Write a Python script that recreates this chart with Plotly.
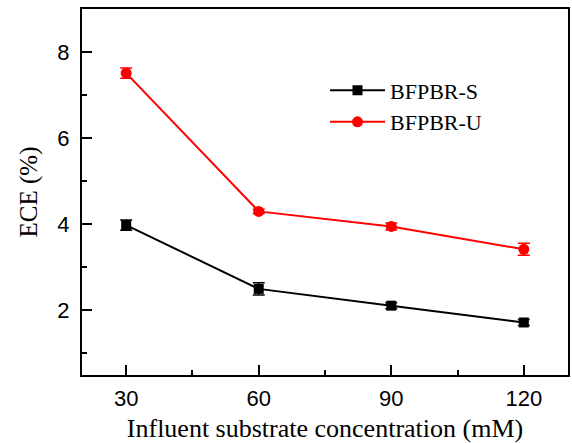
import plotly.graph_objects as go

x_conc = [30, 60, 90, 120]
s_vals = [3.98, 2.50, 2.11, 1.72]
s_err = [0.12, 0.14, 0.07, 0.07]
u_vals = [7.51, 4.30, 3.95, 3.42]
u_err = [0.12, 0.05, 0.08, 0.14]
x_ticks = [30, 60, 90, 120]
y_ticks = [2, 4, 6, 8]

fig = go.Figure()
fig.add_trace(go.Scatter(
    x=x_conc, y=s_vals, name="BFPBR-S", mode="lines+markers",
    line=dict(color="black", width=2),
    marker=dict(symbol="square", size=10, color="black"),
    error_y=dict(type="data", array=s_err, color="black", thickness=1.5, width=6),
))
fig.add_trace(go.Scatter(
    x=x_conc, y=u_vals, name="BFPBR-U", mode="lines+markers",
    line=dict(color="red", width=2),
    marker=dict(symbol="circle", size=11, color="red"),
    error_y=dict(type="data", array=u_err, color="red", thickness=1.5, width=6),
))

axis_common = dict(
    showline=True, linecolor="black", linewidth=2, mirror=True,
    showgrid=False, zeroline=False,
    ticks="inside", ticklen=10, tickwidth=2, tickcolor="black",
    tickfont=dict(family="Liberation Sans, Arial", size=22, color="black"),
)

fig.update_layout(
    width=572, height=443,
    margin=dict(l=82, r=2, t=9, b=68),
    paper_bgcolor="white", plot_bgcolor="white",
    xaxis=dict(range=[20, 130], tickvals=x_ticks,
               minor=dict(ticks="inside", ticklen=5, tickwidth=2, dtick=15, tick0=0, tickcolor="black"),
               title=dict(text="Influent substrate concentration (mM)",
                          font=dict(family="Liberation Serif, Times New Roman", size=26, color="black"),
                          standoff=9),
               ticklabelstandoff=3,
               **axis_common),
    yaxis=dict(range=[0.5, 9], tickvals=y_ticks,
               minor=dict(ticks="inside", ticklen=5, tickwidth=2, dtick=1, tick0=0, tickcolor="black"),
               title=dict(text="ECE (%)",
                          font=dict(family="Liberation Serif, Times New Roman", size=25, color="black"),
                          standoff=13),
               ticklabelstandoff=6,
               **axis_common),
    legend=dict(x=0.5, y=0.835, xanchor="left", yanchor="top",
                bgcolor="rgba(0,0,0,0)", itemwidth=55,
                font=dict(family="Liberation Serif, Times New Roman", size=22, color="black"),
                tracegroupgap=0),
    showlegend=True,
)

fig.write_html("out.html")
